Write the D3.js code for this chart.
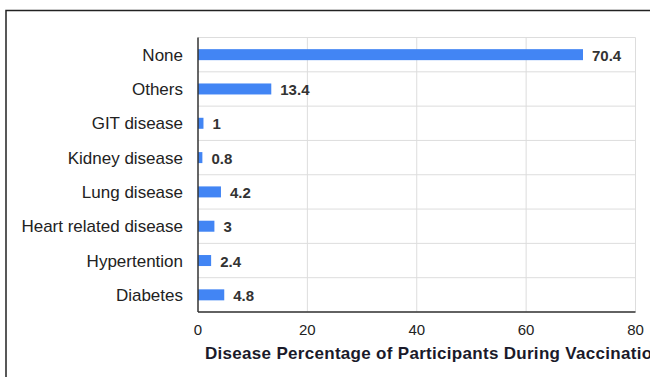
<!DOCTYPE html>
<html>
<head>
<meta charset="utf-8">
<script src="https://cdn.jsdelivr.net/npm/d3@7"></script>
<style>
  html, body { margin: 0; padding: 0; background: #fff; }
  svg { display: block; font-family: "Liberation Sans", Arial, sans-serif; }
</style>
</head>
<body>
<svg id="chart" width="650" height="377"></svg>
<script>
const categories = ["None", "Others", "GIT disease", "Kidney disease", "Lung disease",
  "Heart related disease", "Hypertention", "Diabetes"];
const values = [70.4, 13.4, 1, 0.8, 4.2, 3, 2.4, 4.8];
const xTicks = [0, 20, 40, 60, 80];
const axisTitle = "Disease Percentage of Participants During Vaccination";

const svg = d3.select("#chart");

// outer frame (top and left edges visible)
svg.append("path")
  .attr("d", "M6,400 V10.5 H700")
  .attr("fill", "none")
  .attr("stroke", "#222")
  .attr("stroke-width", 1.5);

const plotLeft = 198, plotRight = 635.5, plotTop = 37.5, plotBottom = 312;

const x = d3.scaleLinear().domain([0, 80]).range([plotLeft, plotRight]);
const band = d3.scaleBand().domain(categories).range([plotTop, plotBottom]);
const barH = 11;

// horizontal grid at category boundaries
const gridY = categories.map(d => band(d)).concat([plotBottom]);
svg.append("g").selectAll("line")
  .data(gridY)
  .join("line")
  .attr("x1", plotLeft).attr("x2", plotRight)
  .attr("y1", d => d).attr("y2", d => d)
  .attr("stroke", "#ddd");

// vertical grid
svg.append("g").selectAll("line")
  .data(xTicks.slice(1))
  .join("line")
  .attr("x1", d => x(d)).attr("x2", d => x(d))
  .attr("y1", plotTop).attr("y2", plotBottom)
  .attr("stroke", "#ddd");

// bars
svg.append("g").selectAll("rect")
  .data(categories)
  .join("rect")
  .attr("x", plotLeft)
  .attr("y", d => band(d) + band.bandwidth() / 2 - barH / 2)
  .attr("width", (d, i) => x(values[i]) - plotLeft)
  .attr("height", barH)
  .attr("fill", "#4285f4");

// value labels
svg.append("g").selectAll("text")
  .data(categories)
  .join("text")
  .attr("x", (d, i) => x(values[i]) + 9)
  .attr("y", d => band(d) + band.bandwidth() / 2 + 6)
  .attr("font-size", 15)
  .attr("font-weight", "bold")
  .attr("fill", "#333")
  .text((d, i) => values[i]);

// category labels
svg.append("g").selectAll("text")
  .data(categories)
  .join("text")
  .attr("x", 183)
  .attr("y", d => band(d) + band.bandwidth() / 2 + 6)
  .attr("text-anchor", "end")
  .attr("font-size", 17)
  .attr("fill", "#222")
  .text(d => d);

// axes lines
svg.append("line")
  .attr("x1", plotLeft).attr("x2", plotLeft).attr("y1", plotTop).attr("y2", plotBottom)
  .attr("stroke", "#333").attr("stroke-width", 1.5);
svg.append("line")
  .attr("x1", plotLeft).attr("x2", plotRight).attr("y1", plotBottom).attr("y2", plotBottom)
  .attr("stroke", "#333").attr("stroke-width", 1.5);

// x tick labels
svg.append("g").selectAll("text")
  .data(xTicks)
  .join("text")
  .attr("x", d => x(d))
  .attr("y", 335)
  .attr("text-anchor", "middle")
  .attr("font-size", 15)
  .attr("fill", "#222")
  .text(d => d);

// axis title
svg.append("text")
  .attr("x", 205)
  .attr("y", 359)
  .attr("font-size", 17)
  .attr("font-weight", "bold")
  .attr("letter-spacing", 0.3)
  .attr("fill", "#1a1a2a")
  .text(axisTitle);
</script>
</body>
</html>
